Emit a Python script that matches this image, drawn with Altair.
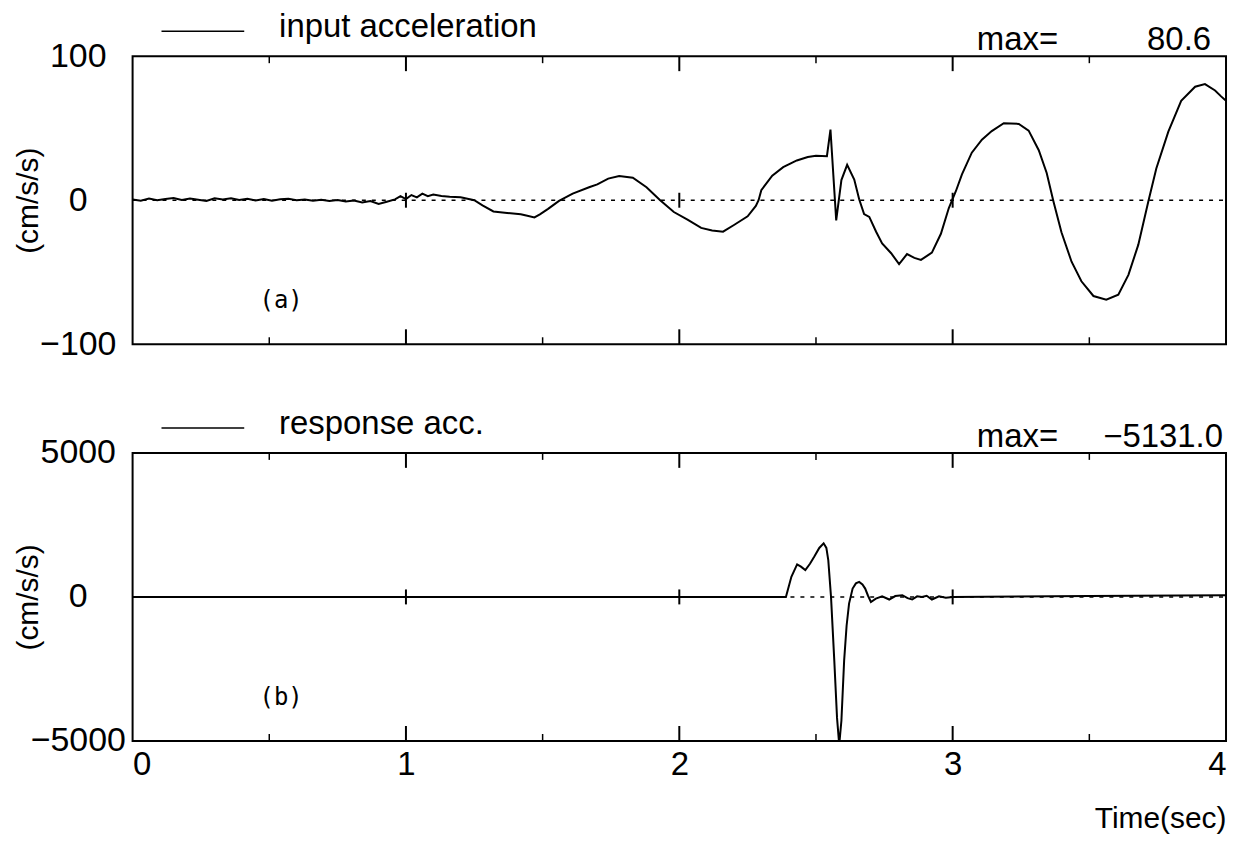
import altair as alt
import pandas as pd

# ---------------- data ----------------
t_in = [0.00, 0.03, 0.06, 0.09, 0.12, 0.15, 0.18, 0.21, 0.24, 0.27, 0.30, 0.33, 0.36, 0.39,
        0.42, 0.45, 0.48, 0.51, 0.54, 0.57, 0.60, 0.63, 0.66, 0.69, 0.72, 0.75, 0.78, 0.81,
        0.84, 0.87, 0.90, 0.93, 0.96, 0.98, 1.00, 1.02, 1.04, 1.06, 1.08, 1.10, 1.13, 1.16,
        1.20, 1.25, 1.28, 1.32, 1.37, 1.42, 1.44, 1.47, 1.49, 1.52, 1.56, 1.61, 1.67, 1.70,
        1.74, 1.78, 1.83, 1.88, 1.93, 1.98, 2.03, 2.08, 2.12, 2.16, 2.20, 2.25, 2.28, 2.29,
        2.30, 2.34, 2.38, 2.43, 2.47, 2.50, 2.54, 2.553, 2.574, 2.593, 2.614, 2.640, 2.658,
        2.676, 2.695, 2.720, 2.742, 2.775, 2.804, 2.833, 2.860, 2.884, 2.924, 2.957, 2.986,
        3.012, 3.034, 3.07, 3.107, 3.143, 3.187, 3.242, 3.278, 3.315, 3.344, 3.369, 3.398,
        3.435, 3.471, 3.515, 3.562, 3.606, 3.643, 3.679, 3.716, 3.745, 3.789, 3.836, 3.887,
        3.923, 3.960, 3.982, 4.000]
a_in = [0.5, -0.3, 1.2, 0.0, 0.8, 1.5, 0.2, 1.2, 0.3, -0.5, 1.3, 0.5, 1.4, 0.2,
        1.0, -0.2, 0.8, -0.4, 0.6, 1.0, 0.0, 0.5, -0.3, 0.4, -0.6, 0.2, -0.9, -0.2,
        -1.6, -0.5, -2.6, -1.0, 0.6, 2.8, 0.8, 3.6, 2.0, 4.6, 2.8, 3.9, 3.0, 2.4,
        2.1, 0.0, -3.5, -7.8, -8.8, -9.8, -10.6, -11.9, -9.8, -6.0, -0.5, 4.6, 9.0, 11.0,
        15.0, 16.8, 15.6, 9.0, 0.0, -8.2, -13.5, -19.2, -21.0, -21.8, -17.2, -11.2, -4.0, 0.0,
        7.0, 17.0, 23.0, 27.6, 30.0, 30.8, 30.6, 49.0, -14.0, 14.0, 24.6, 14.4, 0.7,
        -9.6, -11.6, -21.9, -30.0, -36.8, -44.3, -37.4, -40.0, -41.4, -36.4, -23.3, -5.4,
        6.4, 18.0, 33.0, 42.0, 48.0, 53.5, 53.0, 48.3, 34.7, 18.9, -1.0, -22.2,
        -42.7, -56.3, -66.5, -69.1, -65.6, -51.8, -31.0, -0.7, 22.0, 47.6, 69.0, 78.8,
        80.6, 76.2, 72.1, 69.0]

t_resp = [0.0, 2.39, 2.41, 2.431, 2.445, 2.461, 2.478, 2.494, 2.512, 2.528, 2.538, 2.545,
          2.555, 2.567, 2.577, 2.585, 2.593, 2.603, 2.612, 2.621, 2.634, 2.646, 2.658, 2.67,
          2.68, 2.69, 2.701, 2.719, 2.742, 2.768, 2.79, 2.816, 2.835, 2.852, 2.87, 2.888,
          2.905, 2.924, 2.95, 2.975, 3.0, 3.5, 4.0]
a_resp = [0, 0, 700, 1130, 1050, 930, 1150, 1400, 1700, 1860, 1700, 1280,
          0, -2210, -4200, -5131, -4300, -2210, -1000, -230, 290, 470, 523, 430,
          290, 50, -175, -60, 20, -90, 30, 60, -40, -90, 20, 0,
          40, -90, 20, -25, 0, 30, 60]

ref_t = [0, 4]
ref_v = [0, 0]
major_ticks = [1, 2, 3]
minor_ticks = [0.5, 1.5, 2.5, 3.5]
x_tick_labels = [0, 1, 2, 3, 4]
y_ticks_a = [-100, 0, 100]
y_ticks_b = [-5000, 0, 5000]

FONT = "Liberation Sans"
W = 1097
H = 289


def panel(t, v, ymin, ymax, yvals, legend, maxval, maxval_x, tag, show_x):
    xscale = alt.Scale(domain=[0, 4], nice=False, zero=False)
    yscale = alt.Scale(domain=[ymin, ymax], nice=False, zero=False)
    if show_x:
        xaxis = alt.Axis(values=x_tick_labels, format="d", labelFontSize=33, ticks=False,
                         tickSize=0, domain=False, grid=False, labelPadding=8,
                         labelFont=FONT, labelColor="black",
                         title="Time(sec)", titleAnchor="end", titleFontSize=30,
                         titleFontWeight="normal", titleFont=FONT, titleColor="black",
                         titlePadding=22)
    else:
        xaxis = None
    yaxis = alt.Axis(values=yvals, format="d", labelFontSize=34, ticks=False, tickSize=0,
                     domain=False, grid=False, labelAlign="center", labelPadding=55,
                     labelFont=FONT, labelColor="black",
                     title="(cm/s/s)", titleFontSize=30, titleFontWeight="normal",
                     titleFont=FONT, titleColor="black", titleX=-104, titleY=H / 2,
                     titleAngle=270, titleAlign="center", titleBaseline="middle")
    X = alt.X("t:Q", scale=xscale, axis=xaxis)
    Y = alt.Y("v:Q", scale=yscale, axis=yaxis)

    sig = alt.Chart(pd.DataFrame({"t": t, "v": v})).mark_line(
        color="black", strokeWidth=2, clip=True
    ).encode(x=X, y=Y)

    ref = alt.Chart(pd.DataFrame({"t": ref_t, "v": ref_v})).mark_line(
        color="black", strokeWidth=1.5, strokeDash=[4, 6]
    ).encode(x=X, y=Y)

    zt = alt.Chart(pd.DataFrame({"t": major_ticks, "v": [0] * len(major_ticks)})).mark_tick(
        orient="vertical", size=15, thickness=2, color="black", opacity=1
    ).encode(x=X, y=Y)

    df_major = pd.DataFrame({"t": major_ticks})
    df_minor = pd.DataFrame({"t": minor_ticks})
    tk_top_major = alt.Chart(df_major).mark_tick(
        orient="vertical", size=15, thickness=2, color="black", opacity=1
    ).encode(x=X, y=alt.value(7.5))
    tk_bot_major = alt.Chart(df_major).mark_tick(
        orient="vertical", size=15, thickness=2, color="black", opacity=1
    ).encode(x=X, y=alt.value(H - 7.5))
    tk_top_minor = alt.Chart(df_minor).mark_tick(
        orient="vertical", size=7, thickness=1.5, color="black", opacity=1
    ).encode(x=X, y=alt.value(3.5))
    tk_bot_minor = alt.Chart(df_minor).mark_tick(
        orient="vertical", size=7, thickness=1.5, color="black", opacity=1
    ).encode(x=X, y=alt.value(H - 3.5))

    leg_line = alt.Chart(pd.DataFrame({"s": [legend]})).mark_rule(
        color="black", strokeWidth=1.5
    ).encode(x=alt.value(29), x2=alt.value(112), y=alt.value(-25))
    leg_text = alt.Chart(pd.DataFrame({"s": [legend]})).mark_text(
        align="left", baseline="alphabetic", fontSize=33, font=FONT, color="black"
    ).encode(text="s:N", x=alt.value(147), y=alt.value(-19))
    max_lab = alt.Chart(pd.DataFrame({"s": ["max="]})).mark_text(
        align="left", baseline="alphabetic", fontSize=33, font=FONT, color="black"
    ).encode(text="s:N", x=alt.value(847), y=alt.value(-6))
    max_val = alt.Chart(pd.DataFrame({"s": [maxval]})).mark_text(
        align="right", baseline="alphabetic", fontSize=33, font=FONT, color="black"
    ).encode(text="s:N", x=alt.value(maxval_x), y=alt.value(-6))
    tag_text = alt.Chart(pd.DataFrame({"s": [tag]})).mark_text(
        align="center", baseline="middle", fontSize=24, font="DejaVu Sans Mono", color="black"
    ).encode(text="s:N", x=alt.value(149), y=alt.value(H - 43))

    return alt.layer(ref, sig, zt, tk_top_major, tk_bot_major, tk_top_minor, tk_bot_minor,
                     leg_line, leg_text, max_lab, max_val, tag_text).properties(
        width=W, height=H,
        view=alt.ViewBackground(stroke="black", strokeWidth=2, fill="white"))


top = panel(t_in, a_in, -100, 100, y_ticks_a, "input acceleration", "80.6", 1082, "(a)", False)
bottom = panel(t_resp, a_resp, -5000, 5000, y_ticks_b, "response acc.", "\u22125131.0", 1094,
               "(b)", True)

chart = alt.vconcat(top, bottom, spacing=109, bounds="flush").properties(
    padding={"left": 5, "top": 1, "right": 0, "bottom": 0}
).configure_view(stroke="black", strokeWidth=2).configure(background="white")

chart.save("out.html", embed_options={"renderer": "svg", "actions": False})
